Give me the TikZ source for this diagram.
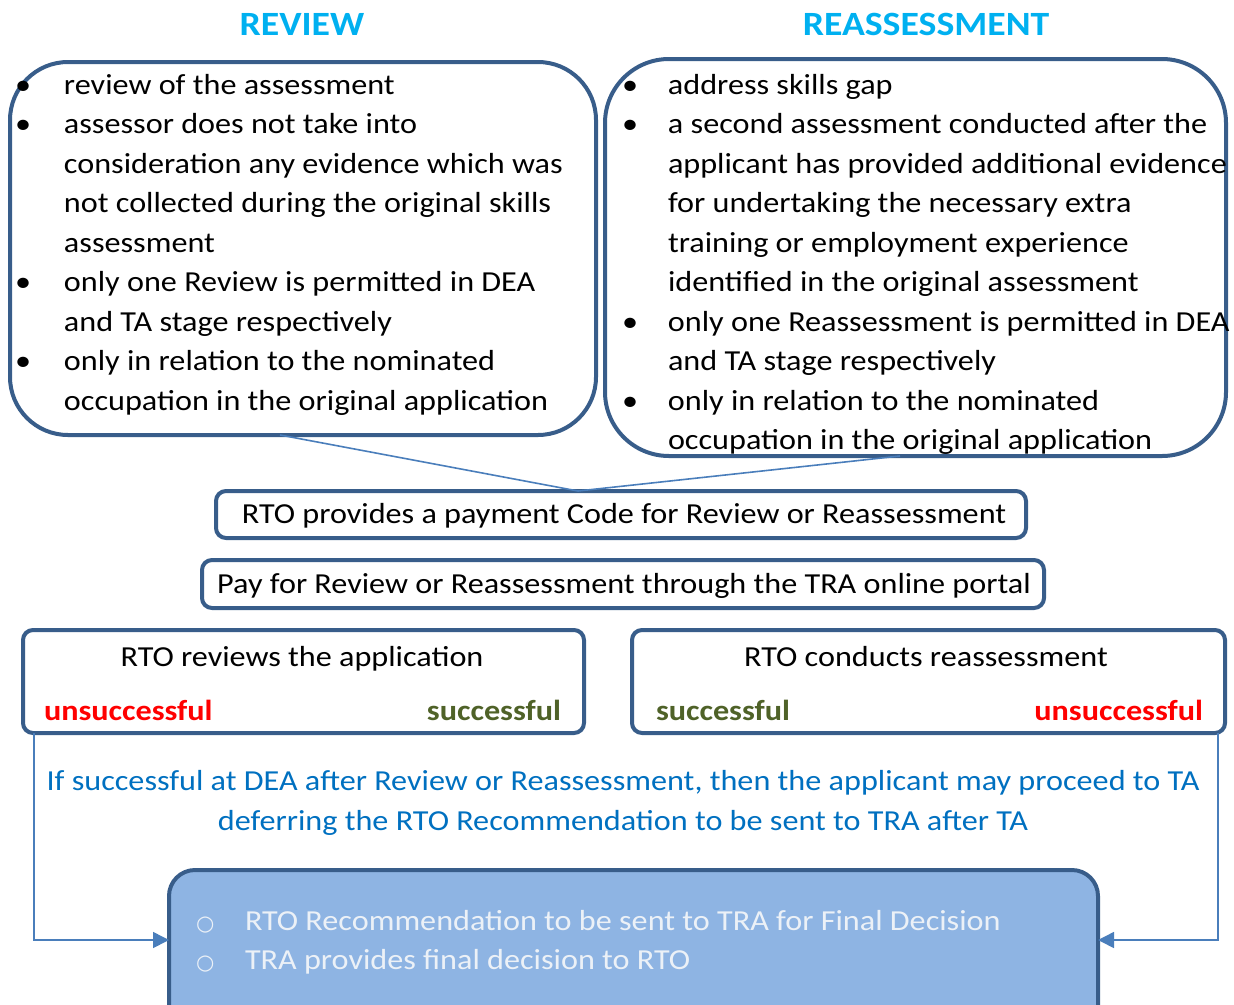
\documentclass[tikz,border=0pt]{standalone}
\usepackage{fontspec}
\setmainfont{Carlito}[FakeStretch=1.11]
\newfontfamily\symfont{DejaVu Sans}
\usetikzlibrary{arrows.meta,calc}
\definecolor{brd}{RGB}{56,93,138}
\definecolor{lnk}{RGB}{74,126,187}
\definecolor{ttl}{RGB}{0,176,240}
\definecolor{bad}{RGB}{255,0,0}
\definecolor{good}{RGB}{79,98,40}
\definecolor{note}{RGB}{0,112,192}
\definecolor{finfill}{RGB}{142,180,227}
\definecolor{fintext}{RGB}{236,241,247}
\newcommand{\bul}[1]{\makebox[#1][l]{\textbullet}}
\begin{document}
\begin{tikzpicture}[x=1pt,y=-1pt,
  every node/.style={inner sep=0pt, outer sep=0pt},
  body/.style={font=\fontsize{29}{39.5}\selectfont},
  titlefont/.style={font=\fontsize{34}{40}\selectfont\bfseries, text=ttl},
  bubble/.style={draw=brd, line width=4pt, rounded corners=58pt},
  boxx/.style={draw=brd, line width=4pt, rounded corners=10pt, fill=white},
  conn/.style={draw=lnk, line width=1.6pt},
  arr/.style={conn, -{Triangle[length=16pt,width=16pt]}},
  verdict/.style={font=\fontsize{29}{35}\selectfont\bfseries},
]
\useasboundingbox (0,0) rectangle (1234,1004);
\clip (0,0) rectangle (1234,1004);

% titles
\node[titlefont, anchor=base] (trev) at (302,35) {REVIEW};
\node[titlefont, anchor=base] (trea) at (926,35) {REASSESSMENT};

% bubbles
\node[bubble, minimum width=586pt, minimum height=373pt] (rev) at (303,248.5) {};
\node[bubble, minimum width=621pt, minimum height=397pt, rounded corners=64pt] (rea) at (915.5,257.5) {};

\node[body, anchor=base west] (revtxt) at (15,94) {\begin{tabular}[t]{@{}l@{}}
\bul{49pt}review of the assessment\\
\bul{49pt}assessor does not take into\\
\hspace*{49pt}consideration any evidence which was\\
\hspace*{49pt}not collected during the original skills\\
\hspace*{49pt}assessment\\
\bul{49pt}only one Review is permitted in DEA\\
\hspace*{49pt}and TA stage respectively\\
\bul{49pt}only in relation to the nominated\\
\hspace*{49pt}occupation in the original application
\end{tabular}};

\node[body, anchor=base west] (reatxt) at (622,94) {\begin{tabular}[t]{@{}l@{}}
\bul{46pt}address skills gap\\
\bul{46pt}a second assessment conducted after the\\
\hspace*{46pt}applicant has provided additional evidence\\
\hspace*{46pt}for undertaking the necessary extra\\
\hspace*{46pt}training or employment experience\\
\hspace*{46pt}identified in the original assessment\\
\bul{46pt}only one Reassessment is permitted in DEA\\
\hspace*{46pt}and TA stage respectively\\
\bul{46pt}only in relation to the nominated\\
\hspace*{46pt}occupation in the original application
\end{tabular}};

% code and pay boxes
\node[boxx, minimum width=810pt, minimum height=47pt] (code) at (621,514.5) {};
\node[body, anchor=base] (codetxt) at (624,523) {RTO provides a payment Code for Review or Reassessment};
\node[boxx, minimum width=842pt, minimum height=48pt] (pay) at (623,584) {};
\node[body, anchor=base] (paytxt) at (624,593) {Pay for Review or Reassessment through the TRA online portal};

\draw[conn] ($(rev.south)+(-23,0)$) -- ($(code.north)+(-43,0)$);
\draw[conn] ($(rea.south)+(-15.5,0)$) -- ($(code.north)+(-43,0)$);

% outcome boxes
\node[boxx, minimum width=561pt, minimum height=103pt] (rvw) at (303.5,681.5) {};
\node[body, anchor=base] (rvwtxt) at (302,666) {RTO reviews the application};
\node[verdict, text=bad, anchor=base west] (rvwbad) at (44,720) {unsuccessful};
\node[verdict, text=good, anchor=base east] (rvwgood) at (561,720) {successful};

\node[boxx, minimum width=593pt, minimum height=103pt] (cnd) at (928.5,681.5) {};
\node[body, anchor=base] (cndtxt) at (926,666) {RTO conducts reassessment};
\node[verdict, text=good, anchor=base west] (cndgood) at (656,720) {successful};
\node[verdict, text=bad, anchor=base east] (cndbad) at (1203,720) {unsuccessful};

% note
\node[body, text=note, align=center, anchor=base] (note) at (623,830) {If successful at DEA after Review or Reassessment, then the applicant may proceed to TA\\deferring the RTO Recommendation to be sent to TRA after TA};

% final box
\node[draw=brd, line width=4pt, fill=finfill, rounded corners=26pt, minimum width=929pt, minimum height=170pt] (final) at (633.5,955) {};
\node[body, text=fintext, anchor=base west] (fintxt) at (196,930) {\begin{tabular}[t]{@{}l@{}}
\makebox[49pt][l]{\symfont\fontsize{21}{21}\selectfont ○}RTO Recommendation to be sent to TRA for Final Decision\\
\makebox[49pt][l]{\symfont\fontsize{21}{21}\selectfont ○}TRA provides final decision to RTO
\end{tabular}};

\draw[arr] ($(rvw.south west)+(11,0)$) |- ($(final.west)+(0,-15)$);
\draw[arr] ($(cnd.south east)+(-7,0)$) |- ($(final.east)+(0,-15)$);
\end{tikzpicture}
\end{document}
